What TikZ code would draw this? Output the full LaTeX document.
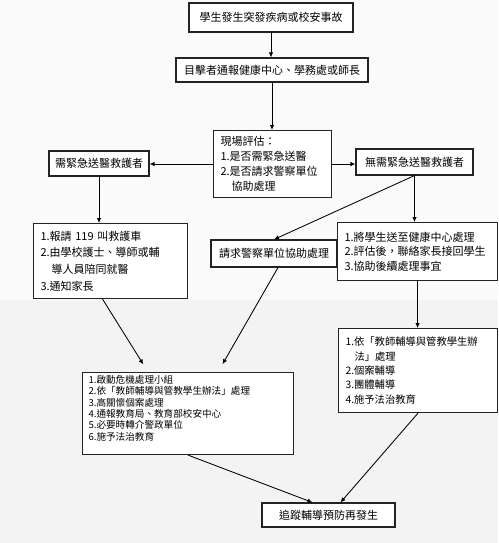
\documentclass[tikz,border=0pt]{standalone}
\usepackage{fontspec}
\setmainfont{Noto Sans CJK TC}
\usetikzlibrary{positioning, arrows.meta, calc}
\definecolor{pagegray}{RGB}{250,250,250}
\definecolor{lowgray}{RGB}{243,243,243}
\definecolor{framegray}{RGB}{35,35,35}
\tikzset{
  box/.style={draw=framegray, line width=1.1pt, fill=white, inner sep=0pt,
              align=center, font=\fontsize{11pt}{13pt}\selectfont},
  listbox/.style={box, align=left, inner xsep=7pt},
  arr/.style={-{Latex[length=5pt, width=4.5pt]}, line width=0.85pt},
}

\begin{document}
\begin{tikzpicture}[x=1pt, y=-1pt]
  % page
  \fill[pagegray] (0,0) rectangle (498,543);
  \fill[lowgray] (0,300) rectangle (498,543);
  \useasboundingbox (0,0) rectangle (498,543);

  % ---- top chain ----
  \node[box, minimum width=164pt, minimum height=29pt] (incident) at (271,17.5)
    {學生發生突發疾病或校安事故};
  \node[box, minimum width=192pt, minimum height=24pt] (report) at (272,70)
    {目擊者通報健康中心、學務處或師長};
  \node[listbox, anchor=north west, text width=104pt, minimum width=117pt,
        minimum height=67pt, font=\fontsize{11pt}{15pt}\selectfont] (eval) at (213,130)
    {現場評估：\\1.是否需緊急送醫\\2.是否請求警察單位\\\hspace*{11pt}協助處理};

  % ---- two branches ----
  \node[box, minimum width=100pt, minimum height=25pt] (need) at (99,163.5)
    {需緊急送醫救護者};
  \node[box, minimum width=117pt, minimum height=26pt] (noneed) at (414.5,162)
    {無需緊急送醫救護者};

  \node[listbox, anchor=north west, text width=140pt, minimum width=154pt,
        minimum height=75pt, font=\fontsize{11pt}{16.6pt}\selectfont] (call) at (33,223)
    {1.報請 119 叫救護車\\2.由學校護士、導師或輔\\\hspace*{11pt}導人員陪同就醫\\3.通知家長};
  \node[box, minimum width=126pt, minimum height=27pt] (police) at (274,253.5)
    {請求警察單位協助處理};
  \node[listbox, anchor=north west, text width=146pt, minimum width=160pt,
        minimum height=58pt, font=\fontsize{11pt}{14.5pt}\selectfont] (care) at (337,222)
    {1.將學生送至健康中心處理\\2.評估後，聯絡家長接回學生\\3.協助後續處理事宜};

  % ---- handling ----
  \node[listbox, anchor=north west, text width=145pt, minimum width=159pt,
        minimum height=84pt, font=\fontsize{10.3pt}{14.3pt}\selectfont] (guide) at (338,328)
    {1.依「教師輔導與管教學生辦\\\hspace*{9pt}法」處理\\2.個案輔導\\3.團體輔導\\4.施予法治教育};
  \node[box, align=left, anchor=north west, inner sep=3pt, inner xsep=6pt,
        minimum width=211pt, minimum height=82pt] (crisis) at (82,372)
    {\parbox[t][76pt][t]{199pt}{\fontsize{9.6pt}{11.3pt}\selectfont
      1.啟動危機處理小組\\2.依「教師輔導與管教學生辦法」處理\\3.高關懷個案處理\\
      4.通報教育局、教育部校安中心\\5.必要時轉介警政單位\\6.施予法治教育}};
  \node[box, minimum width=133pt, minimum height=24pt] (track) at (328.5,515)
    {追蹤輔導預防再發生};

  % connectors
  \draw[arr] (incident.south) -- (incident.south |- report.north);
  \draw[arr] (report.south) -- (report.south |- eval.north);
  \draw[arr] (eval.west) -- (eval.west -| need.east);
  \draw[arr] (eval.east) -- (eval.east -| noneed.west);
  \draw[arr] (need.south) -- (need.south |- call.north);
  \draw[arr] (noneed.south) -- (police.north);
  \draw[arr] (noneed.south) -- (noneed.south |- care.north);
  \draw[arr] (care.south) -- (care.south |- guide.north);
  \draw[arr, shorten >=9pt] ([xshift=-8pt]call.south) -- ([xshift=-40pt]crisis.north);
  \draw[arr, shorten >=9pt] ([xshift=4pt]police.south) -- ([xshift=30pt]crisis.north);
  \draw[arr] (crisis.south) -- ([xshift=-16pt]track.north);
  \draw[arr] (guide.south) -- ([xshift=12pt]track.north);
\end{tikzpicture}
\end{document}
